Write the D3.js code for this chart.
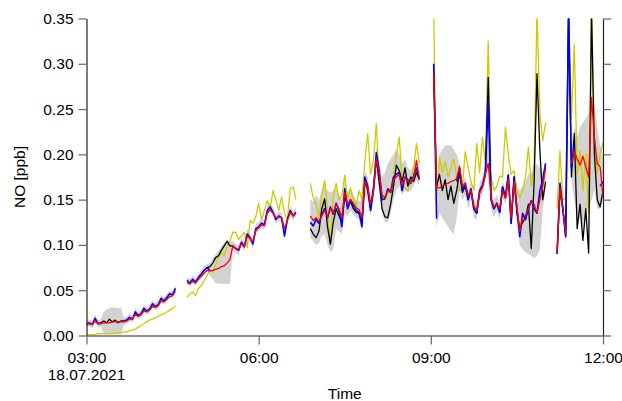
<!DOCTYPE html>
<html><head><meta charset="utf-8">
<script src="https://cdn.jsdelivr.net/npm/d3@7"></script>
<style>
body{margin:0;background:#fff}
svg{display:block}
text{font-family:"Liberation Sans",Arial,Helvetica,sans-serif}
</style>
</head><body>
<svg id="c" width="622" height="401"></svg>
<script>
// ---- data: 3-minute samples from 03:00 to 12:00, 18.07.2021 (null = no data) ----
const startTime = "2021-07-18T03:00";
const stepMinutes = 3;

const blue = [
  .013,.014,.012,.019,.013,.014,null,null,null,null,null,null,null,.016,.017,.020,.018,.026,.022,.024,.030,.027,.029,.035,.032,.034,.041,.038,.042,.046,.045,.052,
  null,null,null,
  .061,.058,.062,.059,.064,.068,.072,.075,.072,null,null,null,null,null,null,null,.099,.096,.094,.103,.098,.112,.108,.101,.118,.120,.124,.122,.138,.142,.136,.128,.132,.130,.110,.128,.138,.132,.136,
  null,null,null,null,
  .125,.121,.128,.124,.133,.140,.130,.142,.134,.146,.138,.120,.162,.140,.150,.144,.138,.136,.120,.175,.165,.138,.160,.202,.182,.150,.151,.162,.158,.175,.178,.180,.160,.175,.172,.168,.176,.185,.173,
  null,null,null,null,
  .300,.129,null,null,null,null,null,null,.170,.185,.160,.168,.150,.162,.140,.135,.160,.166,.180,.260,.150,.140,.146,.136,.164,.152,.177,.124,.175,.140,.109,.135,.128,.140,.149,.140,.135,.160,.172,.190,
  null,null,null,
  .090,.168,.140,.109,.36,.185,.210,null,null,null,null,null,null,null,null,.165,.170
];

const red = [
  .012,.013,.012,.016,.013,.013,.014,.014,.014,.015,.015,.015,.015,.015,.016,.018,.018,.023,.021,.023,.027,.026,.028,.032,.031,.033,.038,.037,.040,.043,.044,.049,
  null,null,null,
  .058,.057,.060,.058,.062,.065,.069,.072,.071,.072,.073,.074,.076,.077,.080,.084,.099,.096,.095,.101,.099,.110,.107,.104,.116,.119,.122,.121,.135,.139,.135,.130,.131,.130,.118,.127,.136,.132,.135,
  null,null,null,null,
  .132,.127,.130,.126,.132,.138,.131,.140,.135,.145,.140,.130,.158,.145,.150,.146,.141,.139,.130,.170,.163,.145,.160,.195,.180,.155,.152,.160,.158,.172,.175,.178,.166,.174,.171,.168,.175,.193,.173,
  null,null,null,null,
  .289,.163,.163,.165,.167,.168,.170,.171,.173,.187,.165,.168,.155,.160,.143,.138,.158,.164,.178,.190,.152,.142,.145,.140,.160,.152,.172,.130,.170,.142,.115,.130,.132,.140,.148,.145,.135,.150,.165,.185,
  null,null,null,
  .090,.163,.140,.112,null,.190,.204,.195,.188,.198,.186,.175,.263,.219,.190,.186,.153
];

const black = [
  null,null,null,null,null,.014,.016,.014,.018,.015,.017,.014,.016,.016,null,null,null,null,null,null,null,null,null,null,null,null,null,null,null,null,null,null,
  null,null,null,
  null,null,null,null,null,null,null,.075,.076,.080,.086,.088,.094,.099,.104,.099,.099,null,null,null,null,null,null,null,null,null,null,null,null,null,null,null,null,null,null,null,null,null,null,
  null,null,null,null,
  .118,.112,.108,.115,.140,.151,.120,.101,.125,.140,.132,.125,.155,.142,.148,.140,.136,.135,.125,.170,.160,.140,.162,.195,.170,.140,.131,.130,.145,.165,.188,.182,.170,.185,.165,.175,.170,.180,.172,
  null,null,null,null,
  .290,.164,.178,.160,.172,.150,.165,.146,.160,.180,.158,.165,.150,.160,.140,.135,.158,.165,.178,.285,.150,.140,.146,.136,.164,.152,.177,.124,.175,.135,.118,.125,.130,.145,.096,.170,.289,.204,.150,.170,
  null,null,null,
  .090,.160,.140,.110,.36,.175,.223,.118,.145,.105,.140,.091,.36,.200,.150,.142,.160
];

const yellow = [
  .001,.001,.001,.001,.002,.002,.002,.002,.002,.002,.003,.003,.003,.004,.004,.005,.006,.007,.009,.011,.013,.015,.017,.018,.020,.021,.023,.024,.026,.028,.030,.033,
  null,null,null,
  .042,.046,.048,.044,.052,.055,.061,.066,.072,.070,.078,.086,.092,.088,.098,.104,.114,.114,.106,.110,.114,.097,.127,.124,.131,.146,.128,.138,.149,.140,.160,.150,.138,.153,.135,.128,.162,.164,.150,
  null,null,null,null,
  .168,.152,.145,.130,.155,.171,.140,.100,.155,.168,.150,.155,.177,.150,.163,.150,.143,.160,.150,.193,.223,.178,.193,.234,.170,.150,.150,.156,.163,.177,.200,.219,.170,.163,.160,.170,.185,.212,.190,
  null,null,null,null,
  .36,.150,.197,.180,.192,.175,.185,.195,.175,.160,.165,.203,.185,.170,.160,.212,.180,.219,.190,.325,.175,.160,.165,.176,.175,.230,.200,.178,.182,.160,.152,.160,.175,.208,.165,.190,.36,.245,.215,.235,
  null,null,null,
  .140,.204,.150,.152,.36,.240,.322,.178,.204,.160,.200,.136,.36,.217,.179,.200,.213
];

const rangeLow = [
  .009,.010,.008,.014,.009,.010,.002,.001,.001,.001,.001,.001,.001,.012,.013,.016,.014,.022,.018,.020,.026,.023,.025,.031,.028,.030,.037,.034,.038,.042,.041,.048,
  null,null,null,
  .057,.054,.058,.055,.060,.064,.068,.071,.066,.062,.058,.057,.057,.057,.057,.057,.094,.091,.089,.098,.093,.107,.103,.096,.113,.115,.119,.117,.133,.137,.131,.123,.127,.125,.105,.123,.133,.127,.131,
  null,null,null,null,
  .108,.104,.100,.102,.110,.112,.100,.092,.095,.118,.115,.112,.135,.132,.138,.134,.130,.128,.115,.155,.150,.132,.150,.180,.160,.135,.125,.125,.135,.150,.160,.165,.155,.160,.158,.160,.165,.172,.165,
  null,null,null,null,
  .280,.120,.135,.130,.125,.120,.115,.112,.130,.160,.150,.155,.140,.150,.130,.128,.150,.155,.170,.190,.140,.130,.138,.128,.152,.145,.165,.118,.160,.125,.100,.095,.092,.090,.088,.085,.088,.095,.140,.160,
  null,null,null,
  .085,.155,.130,.100,.300,.170,.150,.130,.130,.120,.140,.140,.150,.160,.140,.140,.150
];

const rangeHigh = [
  .017,.018,.016,.023,.017,.018,.026,.029,.030,.031,.031,.030,.031,.020,.021,.024,.022,.030,.026,.028,.034,.031,.033,.039,.036,.038,.045,.042,.046,.050,.049,.056,
  null,null,null,
  .065,.062,.066,.063,.068,.072,.076,.079,.080,.085,.090,.094,.098,.102,.106,.104,.104,.101,.099,.108,.103,.117,.113,.106,.123,.125,.129,.127,.143,.147,.141,.133,.137,.135,.115,.133,.143,.137,.141,
  null,null,null,null,
  .150,.148,.155,.150,.160,.165,.160,.158,.160,.162,.155,.150,.170,.158,.162,.155,.150,.148,.150,.182,.175,.155,.172,.208,.192,.175,.180,.190,.195,.200,.205,.200,.190,.195,.185,.182,.188,.198,.182,
  null,null,null,null,
  .310,.170,.200,.205,.210,.210,.210,.205,.200,.190,.170,.175,.160,.170,.150,.145,.168,.175,.190,.270,.160,.150,.155,.145,.170,.162,.185,.135,.180,.165,.160,.165,.170,.178,.180,.185,.190,.185,.180,.195,
  null,null,null,
  .100,.175,.150,.120,.360,.210,.230,.220,.230,.235,.240,.245,.250,.255,.230,.210,.200
];

const yTicks = [0, 0.05, 0.10, 0.15, 0.20, 0.25, 0.30, 0.35];
const xTickLabels = ["03:00", "06:00", "09:00", "12:00"];
const dateLabel = "18.07.2021";
const xTitle = "Time";
const yTitle = "NO [ppb]";

// ---- drawing ----
const svg = d3.select("#c");
const parse = d3.timeParse("%Y-%m-%dT%H:%M");
const t0 = parse(startTime);
const times = blue.map((_, i) => d3.timeMinute.offset(t0, i * stepMinutes));
const dayParse = d3.timeParse("%Y-%m-%d %H:%M");
const xTickDates = xTickLabels.map(s => dayParse("2021-07-18 " + s));

const L = 86.5, R = 603, T = 18.5, B = 335.5;
const x = d3.scaleTime().domain([xTickDates[0], xTickDates[xTickDates.length - 1]]).range([L, R]);
const y = d3.scaleLinear().domain([0, 0.35]).range([B, T]);

svg.append("defs").append("clipPath").attr("id", "plot")
  .append("rect").attr("x", L).attr("y", T).attr("width", R - L).attr("height", B - T);

const g = svg.append("g").attr("clip-path", "url(#plot)");

const band = d3.area()
  .defined((d, i) => rangeLow[i] != null && rangeHigh[i] != null)
  .x((d, i) => x(times[i])).y0((d, i) => y(rangeLow[i])).y1((d, i) => y(rangeHigh[i]));
g.append("path").attr("d", band(times)).attr("fill", "#d2d2d2");

function drawLine(vals, color, w) {
  const line = d3.line().defined(v => v != null)
    .x((v, i) => x(times[i])).y(v => y(v));
  g.append("path").attr("d", line(vals)).attr("fill", "none")
    .attr("stroke", color).attr("stroke-width", w).attr("stroke-linejoin", "round");
}
drawLine(yellow, "#cccc00", 1.3);
drawLine(black, "#000000", 1.3);
drawLine(blue, "#0000ff", 1.6);
drawLine(red, "#ff0000", 1.3);

const fs = "15.5px";
// left axis
const ax = svg.append("g").attr("transform", `translate(${L},0)`)
  .call(d3.axisLeft(y).tickValues(yTicks).tickFormat(d3.format(".2f")).tickSize(8).tickSizeOuter(0).tickPadding(5));
ax.selectAll("text").attr("font-size", fs).attr("fill", "#000").attr("font-family", '"Liberation Sans",Arial,sans-serif');
// right axis
const axr = svg.append("g").attr("transform", `translate(${R},0)`)
  .call(d3.axisRight(y).tickValues(yTicks).tickFormat("").tickSize(8).tickSizeOuter(0));
// bottom axis
const axb = svg.append("g").attr("transform", `translate(0,${B})`)
  .call(d3.axisBottom(x).tickValues(xTickDates).tickFormat((d, i) => xTickLabels[i]).tickSize(9).tickSizeOuter(0).tickPadding(7));
axb.selectAll("text").attr("font-size", fs).attr("fill", "#000").attr("font-family", '"Liberation Sans",Arial,sans-serif');

[ax, axr, axb].forEach(a => {
  a.select(".domain").attr("stroke", "#222").attr("stroke-width", 1.2);
  a.selectAll(".tick line").attr("stroke", "#666").attr("stroke-width", 1.2);
});

svg.append("text").attr("x", x(xTickDates[0])).attr("y", 380).attr("text-anchor", "middle")
  .attr("font-size", fs).text(dateLabel);
svg.append("text").attr("x", (L + R) / 2).attr("y", 399).attr("text-anchor", "middle")
  .attr("font-size", fs).text(xTitle);
svg.append("text").attr("transform", `translate(25,${(T + B) / 2}) rotate(-90)`).attr("text-anchor", "middle")
  .attr("font-size", fs).text(yTitle);
</script>
</body></html>
